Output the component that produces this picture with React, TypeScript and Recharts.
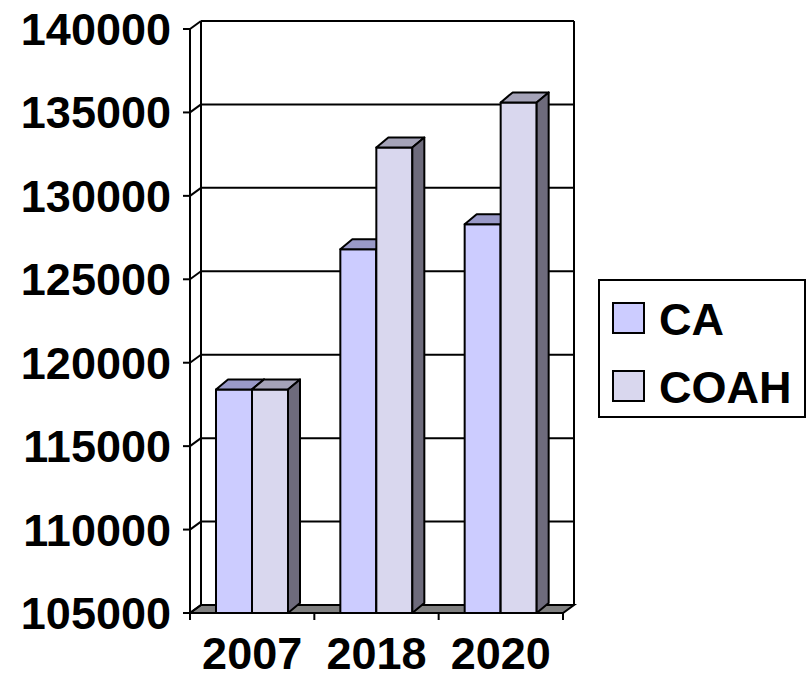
import { BarChart, Bar, XAxis, YAxis, CartesianGrid, Legend } from "recharts";

const years = ["2007", "2018", "2020"];
const caValues = [118400, 126800, 128300];
const coahValues = [118400, 132900, 135600];
const yTicks = [105000, 110000, 115000, 120000, 125000, 130000, 135000, 140000];

const data = years.map((year, i) => ({ year, CA: caValues[i], COAH: coahValues[i] }));

const FONT = "'Liberation Sans', Arial, sans-serif";
// depth of the fake 3d: walls and bars
const WALL_DX = 11;
const WALL_DY = 8;
const BAR_DX = 12;
const BAR_DY = 10;

const Box3D = (props: any) => {
  const { x, y, width: w, height: h, fill, top, side } = props;
  if (w == null || h == null) return null;
  return (
    <g stroke="#000" strokeWidth={2} strokeLinejoin="round">
      <rect x={x} y={y} width={w} height={h} fill={fill} />
      <polygon
        points={`${x},${y} ${x + BAR_DX},${y - BAR_DY} ${x + w + BAR_DX},${y - BAR_DY} ${x + w},${y}`}
        fill={top}
      />
      <polygon
        points={`${x + w},${y} ${x + w + BAR_DX},${y - BAR_DY} ${x + w + BAR_DX},${y + h - BAR_DY} ${x + w},${y + h}`}
        fill={side}
      />
    </g>
  );
};

// each horizontal grid line sits on the back wall, with a short diagonal to the front axis
const wallLine = (props: any) => {
  const { x1, x2, y1, index, x, y, width, height } = props;
  const line = (
    <g stroke="#000" strokeWidth={2} fill="none">
      <line x1={x1} y1={y1} x2={x1 + WALL_DX} y2={y1 - WALL_DY} />
      <line x1={x1 + WALL_DX} y1={y1 - WALL_DY} x2={x2 + WALL_DX} y2={y1 - WALL_DY} />
    </g>
  );
  if (index !== 0) return <g key={`wl-${index}`}>{line}</g>;
  const b = y + height;
  const r = x + width;
  const step = width / years.length;
  return (
    <g key={`wl-${index}`}>
      <polygon
        points={`${x},${b} ${r},${b} ${r + WALL_DX},${b - WALL_DY} ${x + WALL_DX},${b - WALL_DY}`}
        fill="#808080"
        stroke="#000"
        strokeWidth={2}
      />
      <g stroke="#000" strokeWidth={2}>
        <line x1={x + WALL_DX} y1={y - WALL_DY} x2={x + WALL_DX} y2={b - WALL_DY} />
        <line x1={r + WALL_DX} y1={y - WALL_DY} x2={r + WALL_DX} y2={b - WALL_DY} />
        {[0, 1, 2, 3].map((i) => (
          <line key={i} x1={x + i * step} y1={b} x2={x + i * step} y2={b + 7} />
        ))}
      </g>
      {line}
    </g>
  );
};

const renderLegend = (props: any) => {
  const { payload = [] } = props;
  return (
    <svg width={208} height={139} style={{ display: "block" }}>
      <rect x={1} y={1} width={206} height={137} fill="#fff" stroke="#000" strokeWidth={2} />
      {payload.map((entry: any, i: number) => (
        <g key={entry.value}>
          <rect x={15} y={24 + i * 68} width={31} height={30} fill={entry.color} stroke="#000" strokeWidth={2} />
          <text x={61} y={56 + i * 68} fontSize={45} fontWeight="bold" fontFamily={FONT} fill="#000">
            {entry.value}
          </text>
        </g>
      ))}
    </svg>
  );
};

const tickStyle = { fill: "#000", fontSize: 45, fontWeight: "bold", fontFamily: FONT };

export default function App() {
  return (
    <div style={{ position: "absolute", left: 0, top: 0 }}>
      <BarChart
        width={809}
        height={679}
        data={data}
        margin={{ top: 29, right: 246, bottom: 0, left: 20 }}
        barCategoryGap={26}
        barGap={0}
      >
        <CartesianGrid vertical={false} horizontal={wallLine} />
        <XAxis
          dataKey="year"
          height={66}
          axisLine={{ stroke: "#000", strokeWidth: 2 }}
          tickLine={false}
          tickSize={0}
          tickMargin={24}
          tick={tickStyle}
        />
        <YAxis
          width={170}
          domain={[105000, 140000]}
          ticks={yTicks}
          interval={0}
          axisLine={{ stroke: "#000", strokeWidth: 2 }}
          tickLine={{ stroke: "#000", strokeWidth: 2 }}
          tickSize={7}
          tickMargin={12}
          tick={tickStyle}
        />
        <Legend
          layout="horizontal"
          align="center"
          verticalAlign="middle"
          wrapperStyle={{ left: 598, top: 279, width: 208, height: 139 }}
          content={renderLegend}
        />
        <Bar
          dataKey="CA"
          name="CA"
          fill="#CCCCFF"
          isAnimationActive={false}
          shape={(p: any) => <Box3D {...p} top="#9999C8" side="#6E6B7C" />}
        />
        <Bar
          dataKey="COAH"
          name="COAH"
          fill="#D9D7EE"
          isAnimationActive={false}
          shape={(p: any) => <Box3D {...p} top="#A5A3B8" side="#6E6B7C" />}
        />
      </BarChart>
    </div>
  );
}
